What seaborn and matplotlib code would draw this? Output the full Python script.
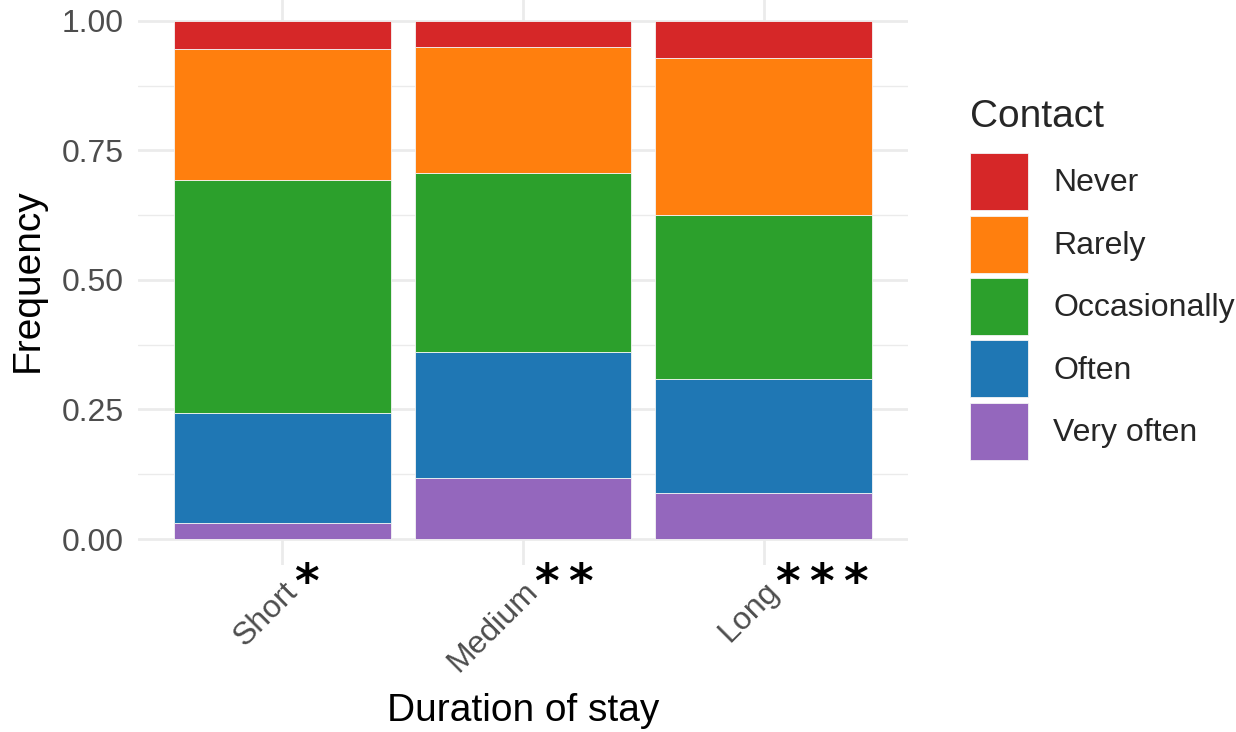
import numpy as np
import pandas as pd
import seaborn as sns
import matplotlib.pyplot as plt
from matplotlib.patches import Patch
from matplotlib.ticker import MultipleLocator

# Data
durations = ['Short', 'Medium', 'Long']
stars = ['*', '**', '***']
contact_levels = ['Never', 'Rarely', 'Occasionally', 'Often', 'Very often']
never = [0.055, 0.051, 0.071]
rarely = [0.252, 0.243, 0.304]
occasionally = [0.449, 0.345, 0.316]
often = [0.213, 0.243, 0.221]
very_often = [0.031, 0.118, 0.088]

colors = ['#d62728', '#ff7f0e', '#2ca02c', '#1f77b4', '#9467bd']

sns.set_theme(style='whitegrid')
plt.rcParams['font.family'] = ['Liberation Sans', 'DejaVu Sans']

# long format table
rows = []
for level, vals in zip(contact_levels, [never, rarely, occasionally, often, very_often]):
    for d, v in zip(durations, vals):
        rows.append({'Duration': d, 'Contact': level, 'Frequency': v})
df = pd.DataFrame(rows)

fig = plt.figure(figsize=(12.36, 7.32), dpi=100)
ax = fig.add_axes([138 / 1236, 1 - 565 / 732, 770 / 1236, 570.2 / 732])

# first hue level ends up on top of the stack
sns.histplot(data=df, x='Duration', hue='Contact', weights='Frequency',
             hue_order=contact_levels, palette=colors, multiple='stack',
             discrete=True, shrink=0.9, alpha=1, edgecolor='#f4f4f4',
             linewidth=0.6, legend=False, ax=ax)

ax.set_xlim(-0.6, 2.6)
ax.set_ylim(-0.05, 1.05)
ax.set_xticks(range(len(durations)))
ax.set_xticklabels(durations, rotation=45, ha='right', va='top',
                   rotation_mode='anchor', color='#4D4D4D', fontsize=23)
ax.set_yticks([0, 0.25, 0.5, 0.75, 1.0])
ax.set_yticklabels(['0.00', '0.25', '0.50', '0.75', '1.00'], color='#4D4D4D', fontsize=23)
ax.yaxis.set_minor_locator(MultipleLocator(0.125))
ax.tick_params(axis='both', which='both', length=0)
ax.tick_params(axis='x', pad=8)
ax.tick_params(axis='y', pad=10)

ax.set_axisbelow(True)
ax.grid(True, which='major', color='#EBEBEB', linewidth=2.0)
ax.grid(True, which='minor', axis='y', color='#EBEBEB', linewidth=1.0)
ax.grid(False, which='minor', axis='x')
for s in ax.spines.values():
    s.set_visible(False)

ax.set_xlabel('Duration of stay', fontsize=28, color='black', labelpad=11)
ax.set_ylabel('Frequency', fontsize=28, color='black', labelpad=12)

# significance stars under each bar (thin space between the asterisks)
for i, st in enumerate(stars):
    ax.text(i + 0.05, -0.088, '\u2009'.join(st), fontsize=34, fontweight='bold',
            color='black', ha='left', va='center', fontfamily='DejaVu Sans')

handles = [Patch(facecolor=c, edgecolor='#f4f4f4', linewidth=0.6) for c in colors]
leg = fig.legend(handles, contact_levels, title='Contact', loc='upper left',
                 bbox_to_anchor=(970 / 1236, 1 - 99 / 732), frameon=False,
                 fontsize=23, title_fontsize=28, handlelength=1.82,
                 handleheight=2.37, labelspacing=0.17, handletextpad=0.78,
                 borderpad=0, borderaxespad=0, alignment='left')
# a bit more room between the title and the keys
leg._legend_box.sep = 13

fig.savefig('out.png', dpi=100)
